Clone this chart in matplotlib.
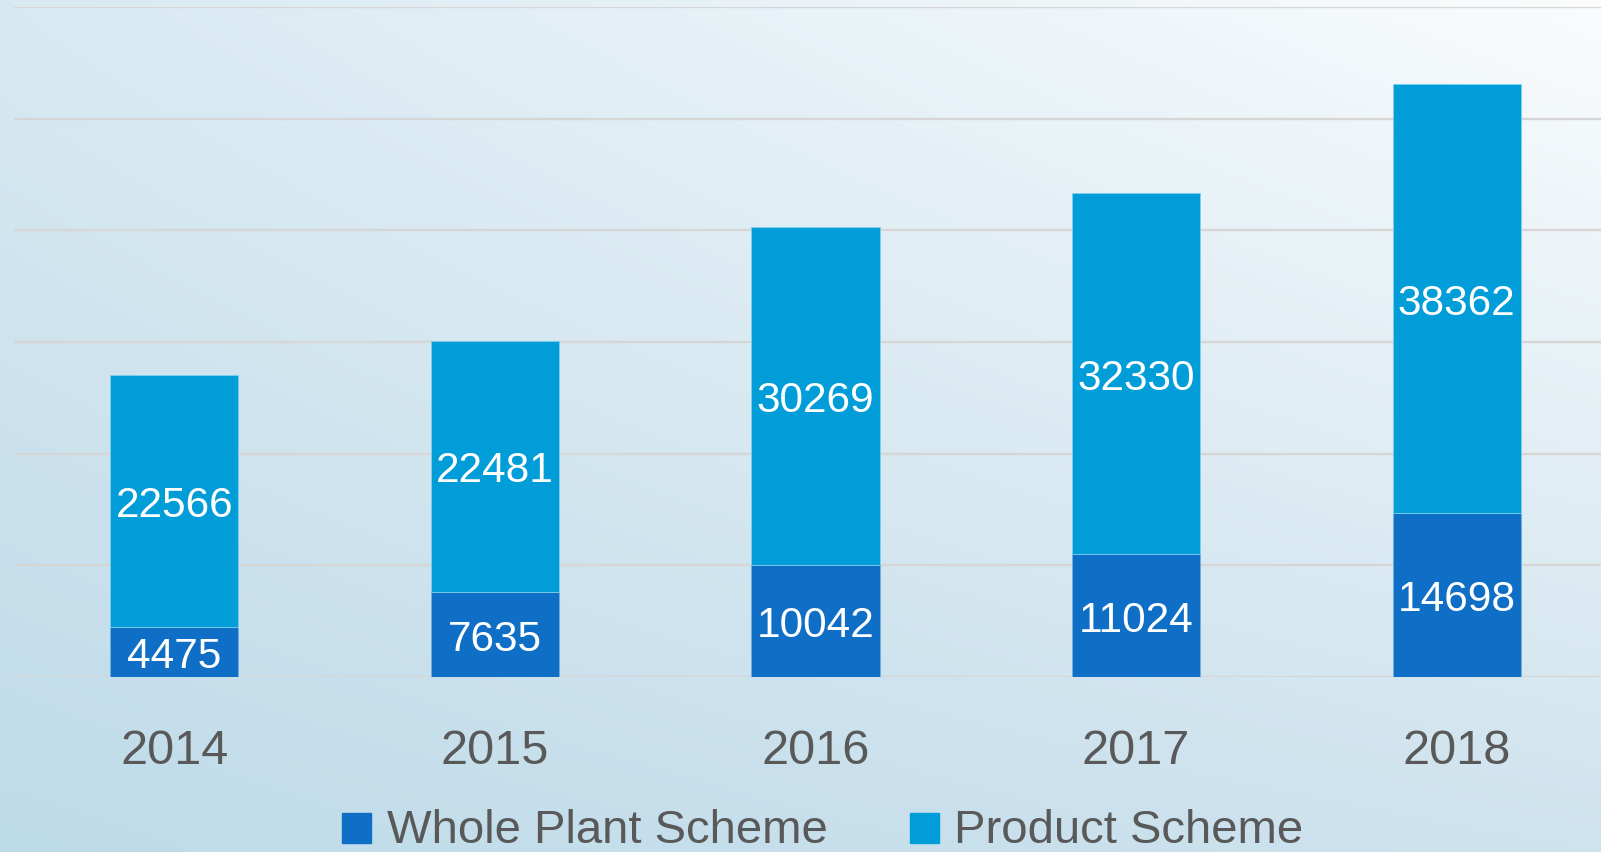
import numpy as np
import matplotlib
matplotlib.use("Agg")
import matplotlib.pyplot as plt
from matplotlib.patches import Rectangle
from matplotlib.colors import to_rgb

years = ["2014", "2015", "2016", "2017", "2018"]
whole_plant = [4475, 7635, 10042, 11024, 14698]
product = [22566, 22481, 30269, 32330, 38362]
series_names = ["Whole Plant Scheme", "Product Scheme"]

C_WHOLE = "#0f6fc6"
C_PROD = "#009dd9"
TXT = "#595959"
FONT = ["Liberation Sans", "Arial", "DejaVu Sans"]
plt.rcParams["font.family"] = FONT

W, H, DPI = 1601, 853, 100
fig = plt.figure(figsize=(W / DPI, H / DPI), dpi=DPI)

# background gradient (bilinear between corners)
bg = fig.add_axes([0, 0, 1, 1], zorder=-10)
tl, tr = np.array(to_rgb("#d8e9f2")), np.array(to_rgb("#fafcfd"))
bl, br = np.array(to_rgb("#bedbe9")), np.array(to_rgb("#cfe3ee"))
ny, nx = 200, 400
u = np.linspace(0, 1, nx)[None, :, None]
v = np.linspace(0, 1, ny)[:, None, None]
top = tl * (1 - u) + tr * u
bot = bl * (1 - u) + br * u
img = top * (1 - v) + bot * v
bg.imshow(img, aspect="auto", extent=[0, 1, 0, 1], interpolation="bicubic")
bg.set_axis_off()

# main axes
left_px, right_px = 14, 1617
bottom_px, top_px = 678, 8
ax = fig.add_axes([left_px / W, (H - bottom_px) / H, (right_px - left_px) / W, (bottom_px - top_px) / H])
ax.set_facecolor("none")
x = np.arange(len(years))
ax.set_xlim(-0.5, len(years) - 0.5)
ax.set_ylim(0, 60000)
for s in ax.spines.values():
    s.set_visible(False)
ax.set_yticks(np.arange(0, 60001, 10000))
ax.yaxis.grid(True, color="#d6d6d6", linewidth=1.7)
ax.set_axisbelow(True)
ax.tick_params(axis="both", length=0, labelleft=False, labelbottom=False)

ax.bar(x, whole_plant, width=0.4, color=C_WHOLE, edgecolor="#6fb0e0", linewidth=0.6, zorder=3)
ax.bar(x, product, width=0.4, bottom=whole_plant, color=C_PROD, edgecolor="#7fd0ee", linewidth=0.6, zorder=3)

lab_fs = 30.5
cap = 0.716 * lab_fs
for i in range(len(years)):
    m1 = whole_plant[i] / 2
    m2 = whole_plant[i] + product[i] / 2
    for val, m in ((whole_plant[i], m1), (product[i], m2)):
        ax.annotate(str(val), (x[i], m), xytext=(0, -cap / 2), textcoords="offset points",
                    ha="center", va="baseline", color="white", fontsize=lab_fs, zorder=5)
    ax.annotate(years[i], (x[i], 0), xycoords=("data", "axes fraction"),
                xytext=(0, -62), textcoords="offset points",
                ha="center", va="baseline", color=TXT, fontsize=35, annotation_clip=False)

# legend (manual)
base_px = 843
leg_items = [(series_names[0], C_WHOLE, 342, 387), (series_names[1], C_PROD, 910, 954)]
for name, col, mx, tx in leg_items:
    fig.patches.append(Rectangle((mx / W, (H - base_px - 1) / H), 29 / W, 30 / H,
                                 transform=fig.transFigure, color=col, zorder=5))
    fig.text(tx / W, (H - base_px) / H, name, ha="left", va="baseline", color=TXT, fontsize=34)

fig.savefig("out.png", dpi=DPI)
